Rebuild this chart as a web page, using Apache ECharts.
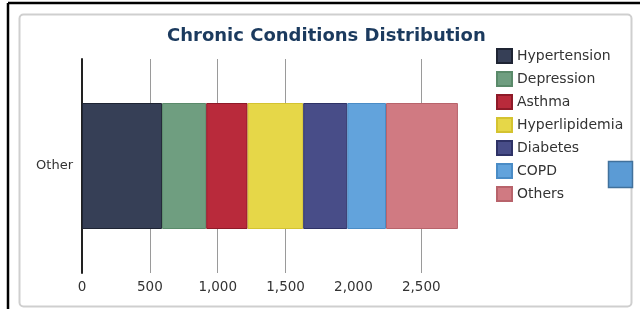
<!DOCTYPE html>
<html>
<head>
<meta charset="utf-8">
<script src="https://cdn.jsdelivr.net/npm/echarts@6/dist/echarts.min.js"></script>
<style>
  html, body { margin: 0; padding: 0; background: #fff; }
  #chart { width: 640px; height: 309px; }
</style>
</head>
<body>
<div id="chart"></div>
<script>
// data
var categories = ['Other'];
var conditions = ['Hypertension', 'Depression', 'Asthma', 'Hyperlipidemia', 'Diabetes', 'COPD', 'Others'];
var counts = [590, 325, 305, 410, 325, 285, 530];
var tickLabels = ['0', '500', '1,000', '1,500', '2,000', '2,500'];

var palette = ['#363f56', '#6f9e80', '#b92a3b', '#e6d748', '#484d88', '#62a3dc', '#d07a82'];
var borders = ['#1e2433', '#5a8a6a', '#8e1a28', '#d4c330', '#2e3266', '#4a8cc6', '#b8636b'];

var chart = echarts.init(document.getElementById('chart'));

var series = conditions.map(function (name, i) {
    return {
        name: name,
        type: 'bar',
        stack: 'total',
        barWidth: 126,
        itemStyle: {
            color: palette[i],
            borderColor: borders[i],
            borderWidth: 1
        },
        data: [counts[i]]
    };
});

var fmt = function (v) {
    var i = v / 500;
    return tickLabels[i] !== undefined && v % 500 === 0 ? tickLabels[i] : '';
};

chart.setOption({
    animation: false,
    textStyle: { fontFamily: 'DejaVu Sans' },
    title: {
        text: 'Chronic Conditions Distribution',
        left: 162,
        top: 22,
        textStyle: {
            fontFamily: 'DejaVu Sans',
            fontSize: 18,
            fontWeight: 'bold',
            color: '#1b3a5e'
        }
    },
    legend: {
        orient: 'vertical',
        left: 491,
        top: 43,
        icon: 'rect',
        itemWidth: 15,
        itemHeight: 14,
        itemGap: 7,
        textStyle: { fontSize: 14, color: '#333' },
        data: conditions
    },
    grid: {
        left: 82,
        right: 178,
        top: 59,
        bottom: 36
    },
    xAxis: {
        type: 'value',
        min: 0,
        max: 2800,
        interval: 500,
        axisLine: { show: false },
        axisTick: { show: false },
        axisLabel: {
            fontSize: 13.5,
            color: '#333',
            margin: 7,
            showMaxLabel: false,
            formatter: fmt
        },
        splitLine: {
            show: true,
            lineStyle: {
                width: 1,
                color: ['#9a9a9a', '#9a9a9a', '#9a9a9a', '#9a9a9a', 'rgba(0,0,0,0)', '#9a9a9a', 'rgba(0,0,0,0)']
            }
        }
    },
    yAxis: {
        type: 'category',
        data: categories,
        axisLine: { show: true, lineStyle: { color: '#222', width: 2 } },
        axisTick: { show: false },
        axisLabel: { fontSize: 13, color: '#333', margin: 9 }
    },
    graphic: [
        // screenshot frame
        { type: 'line', z: -10, shape: { x1: 8, y1: 3, x2: 640, y2: 3 }, style: { stroke: '#000', lineWidth: 2.5 } },
        { type: 'line', z: -10, shape: { x1: 8, y1: 3, x2: 8, y2: 309 }, style: { stroke: '#000', lineWidth: 2.5 } },
        { type: 'rect', z: -10, shape: { x: 19.5, y: 14.5, width: 612, height: 292, r: 4 }, style: { fill: 'none', stroke: '#cfcfcf', lineWidth: 2 } },
        { type: 'rect', z: 100, shape: { x: 608.5, y: 161.5, width: 24, height: 26 }, style: { fill: '#5b9bd5', stroke: '#41719c', lineWidth: 1.5 } }
    ],
    series: series
});
</script>
</body>
</html>
